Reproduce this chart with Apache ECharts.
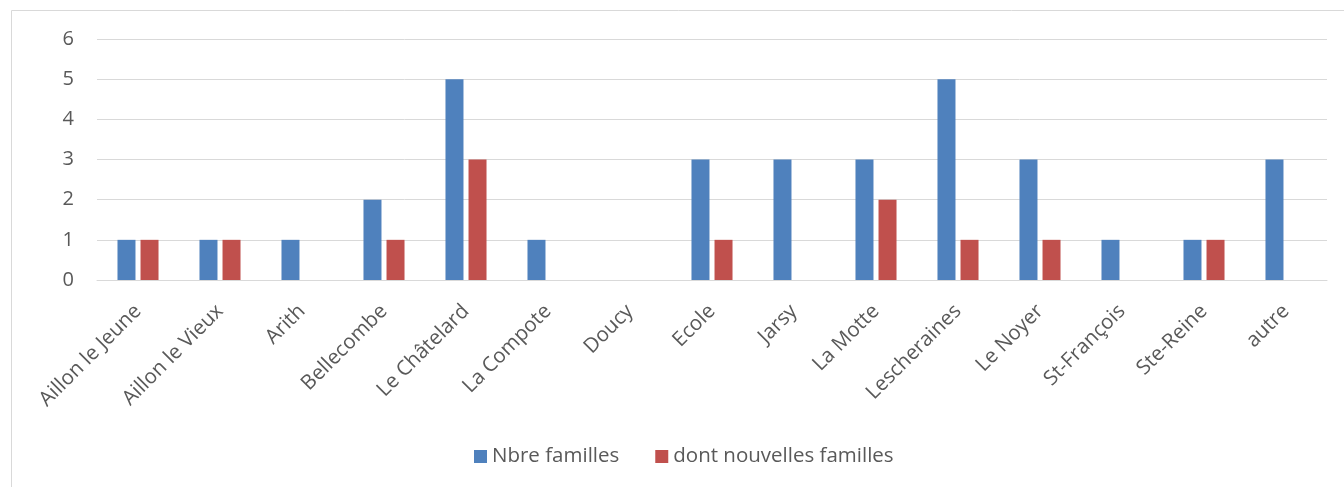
<!DOCTYPE html>
<html><head><meta charset="utf-8">
<script src="https://cdn.jsdelivr.net/npm/echarts@6/dist/echarts.min.js"></script>
<style>html,body{margin:0;padding:0;background:#fff}#c{width:1344px;height:487px}</style>
</head><body><div id="c"></div>
<script>
const categories = ['Aillon le Jeune','Aillon le Vieux','Arith','Bellecombe','Le Châtelard','La Compote','Doucy','Ecole','Jarsy','La Motte','Lescheraines','Le Noyer','St-François','Ste-Reine','autre'];
const nbreFamilles = [1,1,1,2,5,1,0,3,3,3,5,3,1,1,3];
const nouvellesFamilles = [1,1,0,1,3,0,0,1,0,2,1,1,0,1,0];
const yTicks = [0,1,2,3,4,5,6];
const seriesNames = ['Nbre familles','dont nouvelles familles'];

const chart = echarts.init(document.getElementById('c'));
const font = 'Open Sans';
chart.setOption({
  animation:false,
  textStyle:{fontFamily:font},
  graphic:[{type:'rect',shape:{x:11.5,y:10.5,width:1400,height:600},style:{fill:'none',stroke:'#d9d9d9',lineWidth:1},silent:true}],
  grid:{left:97,right:17,top:39,bottom:207,containLabel:false},
  legend:{bottom:15,left:469,itemWidth:13,itemHeight:13,itemGap:36,icon:'rect',
    textStyle:{color:'#595959',fontSize:20.5,fontFamily:font},
    data:seriesNames},
  xAxis:{type:'category',data:categories,
    axisLine:{lineStyle:{color:'#d9d9d9',width:1}},axisTick:{show:false},
    axisLabel:{rotate:45,color:'#595959',fontSize:20.5,margin:28,interval:0,fontFamily:font}},
  yAxis:{type:'value',min:yTicks[0],max:yTicks[yTicks.length-1],interval:1,
    axisLine:{show:false},axisTick:{show:false},
    splitLine:{lineStyle:{color:'#d9d9d9',width:1}},
    axisLabel:{color:'#595959',fontSize:20,margin:23,fontFamily:font}},
  series:[
    {name:seriesNames[0],type:'bar',data:nbreFamilles,barWidth:18,barGap:'28%',itemStyle:{color:'#4F81BD'}},
    {name:seriesNames[1],type:'bar',data:nouvellesFamilles,barWidth:18,barGap:'28%',itemStyle:{color:'#C0504D'}}
  ]
});
</script></body></html>
